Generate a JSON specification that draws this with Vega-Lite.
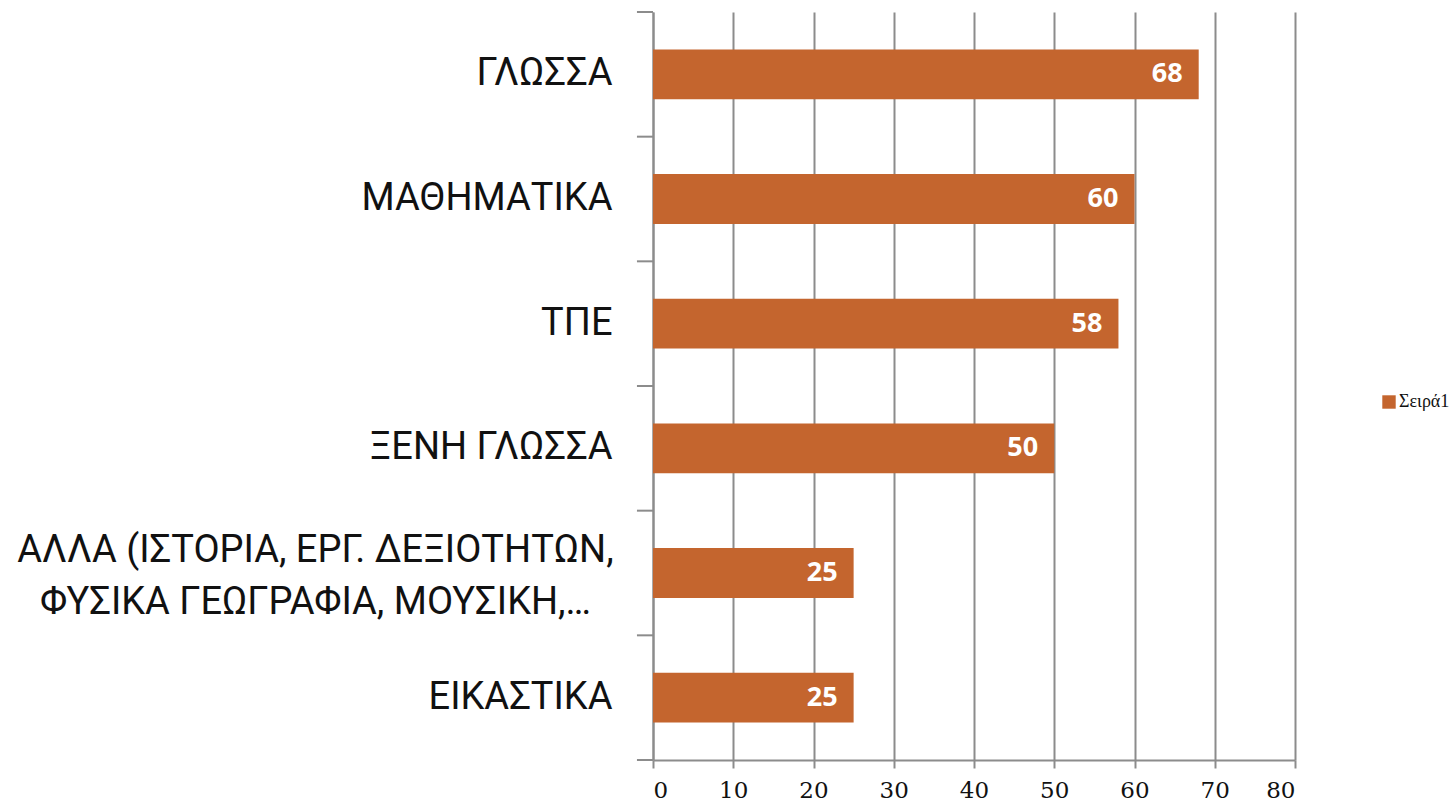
{
  "$schema": "https://vega.github.io/schema/vega-lite/v6.json",
  "autosize": {"type": "none"},
  "width": 642,
  "height": 748,
  "padding": {"left": 653, "top": 12, "right": 160, "bottom": 46},
  "background": "white",
  "datasets": {
    "bars": [
      {"subject": "ΓΛΩΣΣΑ", "value": 68, "series": "Σειρά1"},
      {"subject": "ΜΑΘΗΜΑΤΙΚΑ", "value": 60, "series": "Σειρά1"},
      {"subject": "ΤΠΕ", "value": 58, "series": "Σειρά1"},
      {"subject": "ΞΕΝΗ ΓΛΩΣΣΑ", "value": 50, "series": "Σειρά1"},
      {"subject": "ΑΛΛΑ (ΙΣΤΟΡΙΑ, ΕΡΓ. ΔΕΞΙΟΤΗΤΩΝ, ΦΥΣΙΚΑ ΓΕΩΓΡΑΦΙΑ, ΜΟΥΣΙΚΗ,…", "value": 25, "series": "Σειρά1"},
      {"subject": "ΕΙΚΑΣΤΙΚΑ", "value": 25, "series": "Σειρά1"}
    ],
    "boundaries": [{"b": 0}, {"b": 1}, {"b": 2}, {"b": 3}, {"b": 4}, {"b": 5}, {"b": 6}]
  },
  "config": {"view": {"stroke": null}},
  "resolve": {"scale": {"y": "independent"}},
  "layer": [
    {
      "data": {"name": "bars"},
      "encoding": {
        "y": {
          "field": "subject",
          "type": "nominal",
          "sort": null,
          "scale": {"paddingInner": 0.6, "paddingOuter": 0.3},
          "axis": {
            "title": null,
            "orient": "left",
            "domainColor": "#8c8c8c",
            "domainWidth": 2,
            "ticks": false,
            "labelFont": "Roboto",
            "labelFontSize": 38,
            "labelColor": "#111111",
            "labelLimit": 0,
            "labelLineHeight": 52,
            "labelExpr": "indexof(datum.value,'ΑΛΛΑ')==0 ? ['ΑΛΛΑ (ΙΣΤΟΡΙΑ, ΕΡΓ. ΔΕΞΙΟΤΗΤΩΝ,','ΦΥΣΙΚΑ ΓΕΩΓΡΑΦΙΑ, ΜΟΥΣΙΚΗ,…'] : datum.value",
            "labelAlign": {"condition": {"test": "indexof(datum.value,'ΑΛΛΑ')==0", "value": "center"}, "value": "right"},
            "labelPadding": {"condition": {"test": "indexof(datum.value,'ΑΛΛΑ')==0", "value": 338}, "value": 41},
            "labelOffset": {"condition": {"test": "indexof(datum.value,'ΑΛΛΑ')==0", "value": -22}, "value": 0}
          }
        },
        "x": {
          "field": "value",
          "type": "quantitative",
          "scale": {"domain": [0, 80], "nice": false},
          "axis": {
            "title": null,
            "values": [0, 10, 20, 30, 40, 50, 60, 70, 80],
            "grid": true,
            "gridColor": "#8c8c8c",
            "gridWidth": 2,
            "domainColor": "#8c8c8c",
            "domainWidth": 2,
            "tickColor": "#8c8c8c",
            "tickWidth": 2,
            "tickSize": 8,
            "labelFont": "DejaVu Serif",
            "labelFontSize": 23,
            "labelColor": "#111111",
            "labelPadding": 11
          }
        }
      },
      "layer": [
        {
          "mark": {"type": "bar"},
          "encoding": {
            "color": {
              "field": "series",
              "type": "nominal",
              "scale": {"range": ["#C4652E"]},
              "legend": {
                "title": null,
                "orient": "none",
                "legendX": 727,
                "legendY": 381,
                "padding": 0,
                "symbolType": "square",
                "symbolSize": 180,
                "symbolStrokeWidth": 0,
                "labelFont": "Liberation Serif",
                "labelFontSize": 18,
                "labelOffset": 1,
                "labelColor": "#111111"
              }
            }
          }
        },
        {
          "mark": {"type": "text", "align": "right", "baseline": "middle", "dx": -16, "font": "Open Sans", "fontWeight": "bold", "fontSize": 27, "color": "white"},
          "encoding": {"text": {"field": "value", "type": "quantitative"}}
        }
      ]
    },
    {
      "data": {"name": "boundaries"},
      "mark": {"type": "rule", "color": "#8c8c8c", "strokeWidth": 2},
      "encoding": {
        "y": {"field": "b", "type": "quantitative", "scale": {"domain": [0, 6], "reverse": true, "nice": false}, "axis": null},
        "x": {"datum": -2, "type": "quantitative"},
        "x2": {"datum": 0}
      }
    }
  ]
}
